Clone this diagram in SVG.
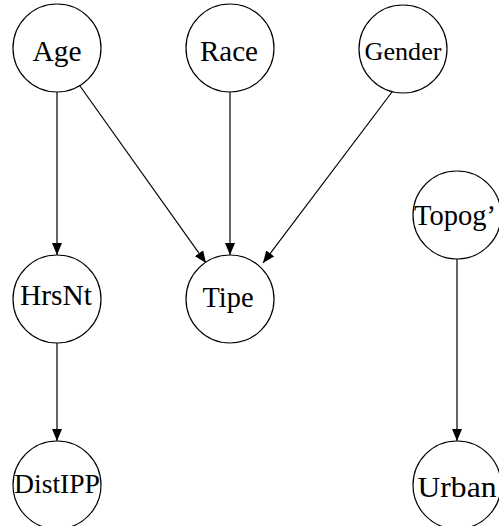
<svg xmlns="http://www.w3.org/2000/svg" width="499" height="526" viewBox="0 0 499 526">
<style>
.n{fill:#fff;stroke:#000;stroke-width:1.2}
.t{font-family:"Liberation Serif","Times New Roman",serif;font-size:30px;text-anchor:middle;fill:#000}
.e{stroke:#000;stroke-width:1.2;fill:none;marker-end:url(#ah)}
</style>
<defs>
<marker id="ah" markerWidth="12" markerHeight="10" refX="12" refY="5" orient="auto" markerUnits="userSpaceOnUse">
<path d="M0,0 L12,5 L0,10 Z" fill="#000"/>
</marker>
</defs>
<rect width="499" height="526" fill="#fff"/>
<g id="edges">
<line class="e" x1="57" y1="92" x2="57" y2="255"/>
<line class="e" x1="80" y1="86" x2="206" y2="263"/>
<line class="e" x1="230" y1="92" x2="230" y2="255"/>
<line class="e" x1="392" y1="92" x2="263" y2="263"/>
<line class="e" x1="57" y1="343" x2="57" y2="441"/>
<line class="e" x1="457" y1="259" x2="457" y2="441"/>
</g>
<g id="Age"><circle class="n" cx="57" cy="48" r="44"/><text class="t" x="57" y="61" textLength="49" lengthAdjust="spacingAndGlyphs">Age</text></g>
<g id="Race"><circle class="n" cx="230" cy="48" r="44"/><text class="t" x="229" y="61" textLength="58" lengthAdjust="spacingAndGlyphs">Race</text></g>
<g id="Gender"><circle class="n" cx="403" cy="49" r="44"/><text class="t" x="403" y="60" style="font-size:26px" textLength="77" lengthAdjust="spacingAndGlyphs">Gender</text></g>
<g id="Topog"><circle class="n" cx="457" cy="215" r="44"/><text class="t" x="455" y="225" textLength="82" lengthAdjust="spacingAndGlyphs">Topog’</text></g>
<g id="HrsNt"><circle class="n" cx="57" cy="299" r="44"/><text class="t" x="56" y="305" textLength="72" lengthAdjust="spacingAndGlyphs">HrsNt</text></g>
<g id="Tipe"><circle class="n" cx="230" cy="299" r="44"/><text class="t" x="228" y="307" textLength="51" lengthAdjust="spacingAndGlyphs">Tipe</text></g>
<g id="DistIPP"><circle class="n" cx="57" cy="485" r="44"/><text class="t" x="57" y="493" style="font-size:27px" textLength="86" lengthAdjust="spacingAndGlyphs">DistIPP</text></g>
<g id="Urban"><circle class="n" cx="457" cy="485" r="44"/><text class="t" x="457" y="497" textLength="79" lengthAdjust="spacingAndGlyphs">Urban</text></g>
</svg>
